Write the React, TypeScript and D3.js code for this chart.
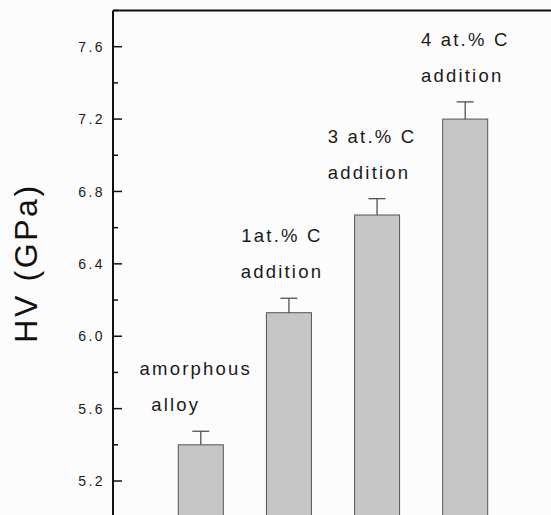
import React from "react";
import * as d3 from "d3";

const categories = ["amorphous alloy", "1 at.% C", "3 at.% C", "4 at.% C"];
const hvValues = [5.40, 6.13, 6.67, 7.20];
const hvErrors = [0.075, 0.08, 0.09, 0.095];
const labelLines = [
  ["amorphous", "alloy"],
  ["1at.% C", "addition"],
  ["3 at.% C", "addition"],
  ["4 at.% C", "addition"],
];
const majorTicks = [5.2, 5.6, 6.0, 6.4, 6.8, 7.2, 7.6];
const minorTicks = [5.0, 5.4, 5.8, 6.2, 6.6, 7.0, 7.4, 7.8];

const W = 551;
const H = 515;
const axisX = 113;
const font = "'Liberation Sans', Arial, Helvetica, sans-serif";

export default function App() {
  const y = d3.scaleLinear().domain([5.0, 7.8]).range([517.2, 10.5]);
  const x = d3.scalePoint<string>().domain(categories).range([200.8, 465.2]);
  const barW = 45;
  const capW = 17;
  const lineDx = [
    [-5, -25],
    [-7, -7],
    [-5, -8],
    [0, -3],
  ];

  return (
    <svg
      width={W}
      height={H}
      style={{ position: "absolute", left: 0, top: 0, background: "#fcfcfc" }}
    >
      <rect x={0} y={0} width={W} height={H} fill="#fcfcfc" />
      {categories.map((c, i) => {
        const cx = x(c) as number;
        const top = y(hvValues[i]);
        const errTop = y(hvValues[i] + hvErrors[i]);
        return (
          <g key={c}>
            <rect
              x={cx - barW / 2}
              y={top}
              width={barW}
              height={H + 10 - top}
              fill="#c6c6c6"
              stroke="#555"
              strokeWidth={1}
            />
            <line x1={cx} x2={cx} y1={top} y2={errTop} stroke="#444" strokeWidth={1.2} />
            <line
              x1={cx - capW / 2}
              x2={cx + capW / 2}
              y1={errTop}
              y2={errTop}
              stroke="#444"
              strokeWidth={1.2}
            />
            {labelLines[i].map((t, j) => (
              <text
                key={j}
                x={cx + lineDx[i][j]}
                y={errTop - (j === 0 ? 56 : 20)}
                textAnchor="middle"
                fontFamily={font}
                fontSize={18.5}
                letterSpacing={2.2}
                fill="#1a1a1a"
              >
                {t}
              </text>
            ))}
          </g>
        );
      })}
      <line x1={axisX} x2={axisX} y1={y(7.8)} y2={H + 5} stroke="#111" strokeWidth={2} />
      <line x1={axisX} x2={W + 5} y1={y(7.8)} y2={y(7.8)} stroke="#111" strokeWidth={2} />
      {majorTicks.map((t) => (
        <g key={t}>
          <line
            x1={axisX}
            x2={axisX + 9}
            y1={y(t)}
            y2={y(t)}
            stroke="#111"
            strokeWidth={1.5}
          />
          <text
            x={axisX - 8}
            y={y(t)}
            dy="0.36em"
            textAnchor="end"
            fontFamily={font}
            fontSize={14}
            letterSpacing={2.4}
            fill="#1a1a1a"
          >
            {t.toFixed(1)}
          </text>
        </g>
      ))}
      {minorTicks.map((t) => (
        <line
          key={t}
          x1={axisX}
          x2={axisX + 5}
          y1={y(t)}
          y2={y(t)}
          stroke="#111"
          strokeWidth={1.5}
        />
      ))}
      <text
        transform={`translate(36.5, 263) rotate(-90)`}
        textAnchor="middle"
        fontFamily={font}
        fontSize={32}
        letterSpacing={2.6}
        fill="#111"
      >
        HV (GPa)
      </text>
    </svg>
  );
}
